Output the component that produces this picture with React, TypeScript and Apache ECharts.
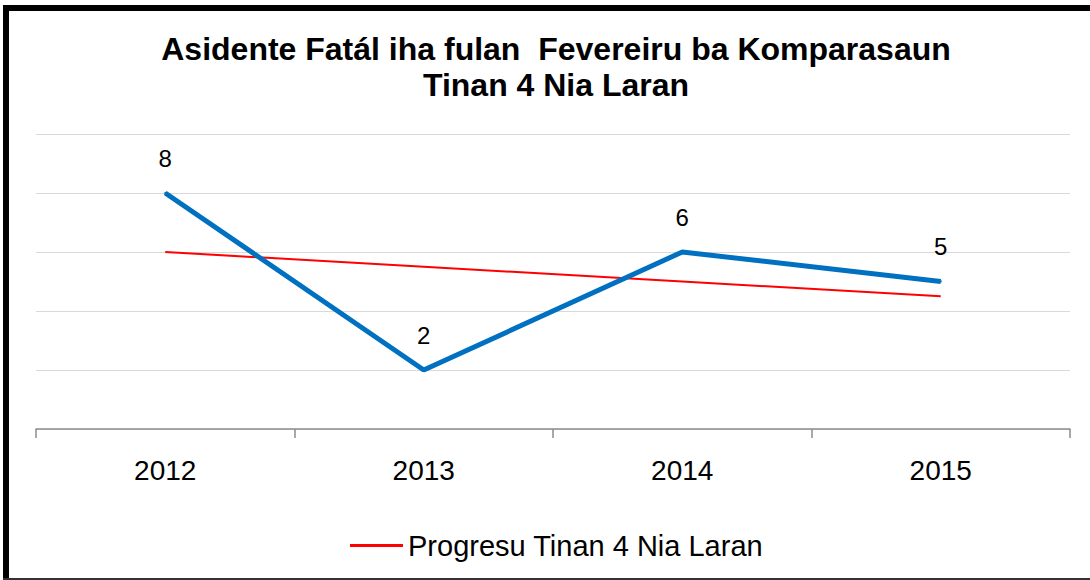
import React, { useEffect, useRef } from "react";
import * as echarts from "echarts";

const categories = ["2012", "2013", "2014", "2015"];
const accidents = [8, 2, 6, 5];
const trend = [6, 5.5, 5, 4.5];
const yTicks = [0, 2, 4, 6, 8, 10];

export default function App() {
  const ref = useRef<HTMLDivElement>(null);
  useEffect(() => {
    const chart = echarts.init(ref.current!, null, { renderer: "svg" });
    chart.setOption({
      animation: false,
      backgroundColor: "#ffffff",
      title: {
        text: "Asidente Fatál iha fulan  Fevereiru ba Komparasaun\nTinan 4 Nia Laran",
        left: 551,
        textAlign: "center",
        top: 26,
        textStyle: {
          fontFamily: "Liberation Sans",
          fontWeight: "bold",
          fontSize: 32,
          lineHeight: 36,
          color: "#000",
        },
      },
      legend: {
        data: ["Progresu Tinan 4 Nia Laran"],
        left: 345,
        top: 526,
        itemWidth: 53,
        itemHeight: 3,
        itemGap: 8,
        icon: "rect",
        textStyle: { fontFamily: "Liberation Sans", fontSize: 29, color: "#000" },
      },
      grid: { left: 36, right: 20, top: 134, bottom: 151, containLabel: false },
      xAxis: {
        type: "category",
        data: categories,
        boundaryGap: true,
        axisLine: { lineStyle: { color: "#8c8c8c", width: 1.5 } },
        axisTick: { show: true, length: 9, lineStyle: { color: "#8c8c8c", width: 1.5 } },
        axisLabel: { fontFamily: "Liberation Sans", fontSize: 28, color: "#000", margin: 27 },
      },
      yAxis: {
        type: "value",
        min: yTicks[0],
        max: yTicks[yTicks.length - 1],
        interval: 2,
        axisLine: { show: false },
        axisTick: { show: false },
        axisLabel: { show: false },
        splitLine: { lineStyle: { color: "#d9d9d9", width: 1 } },
      },
      series: [
        {
          name: "Asidente Fatál",
          type: "line",
          data: accidents,
          symbol: "circle",
          symbolSize: 2,
          showSymbol: true,
          lineStyle: { color: "#0070c0", width: 5 },
          itemStyle: { color: "#0070c0" },
          label: {
            show: true,
            position: "top",
            distance: 22,
            fontFamily: "Liberation Sans",
            fontSize: 24,
            color: "#000",
          },
          labelLayout: { hideOverlap: false },
          z: 3,
        },
        {
          name: "Progresu Tinan 4 Nia Laran",
          type: "line",
          data: trend,
          symbol: "none",
          lineStyle: { color: "#ff0000", width: 2 },
          itemStyle: { color: "#ff0000" },
          z: 2,
        },
      ],
      graphic: [
        { type: "rect", shape: { x: 3, y: 5, width: 1087, height: 6 }, style: { fill: "#000" } },
        { type: "rect", shape: { x: 3, y: 5, width: 6, height: 575 }, style: { fill: "#000" } },
        { type: "rect", shape: { x: 3, y: 578, width: 1087, height: 2 }, style: { fill: "#333" } },
      ],
    });
    return () => chart.dispose();
  }, []);
  return (
    <div
      ref={ref}
      style={{ position: "fixed", left: 0, top: 0, width: 1090, height: 580 }}
    />
  );
}
